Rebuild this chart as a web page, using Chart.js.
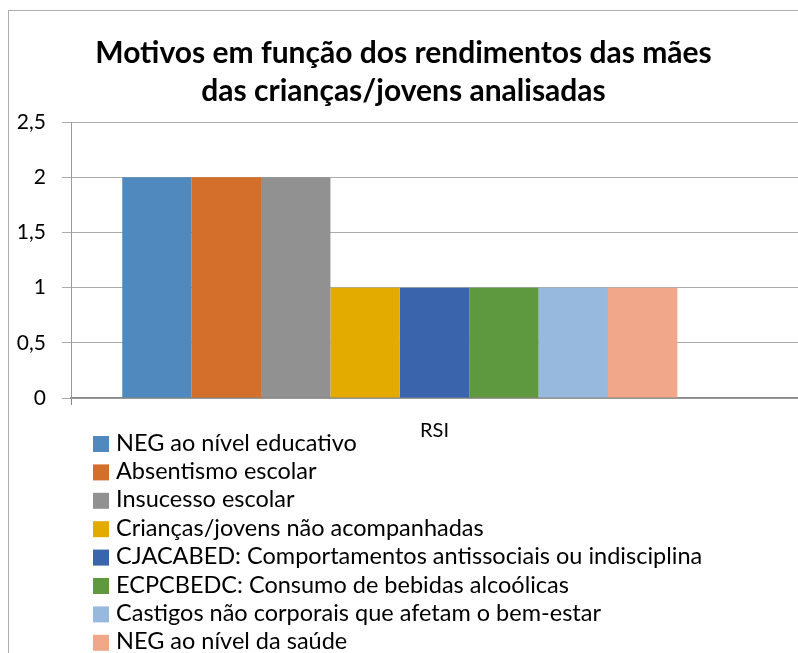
<!DOCTYPE html>
<html>
<head>
<meta charset="utf-8">
<script src="https://cdn.jsdelivr.net/npm/chart.js@4/dist/chart.umd.min.js"></script>
<style>
  html, body { margin: 0; padding: 0; background: #fff; overflow: hidden; width: 798px; height: 653px; }
  #frame { position: absolute; left: 8px; top: 10px; width: 797px; height: 660px;
           border-left: 1px solid #adadad; border-top: 1px solid #adadad; }
  canvas { display: block; }
</style>
</head>
<body>
<div id="frame"><canvas id="chart" width="797" height="650"></canvas></div>
<script>
// data
const categories = ['RSI'];
const seriesNames = [
  'NEG ao nível educativo',
  'Absentismo escolar',
  'Insucesso escolar',
  'Crianças/jovens não acompanhadas',
  'CJACABED: Comportamentos antissociais ou indisciplina',
  'ECPCBEDC: Consumo de bebidas alcoólicas',
  'Castigos não corporais que afetam o bem-estar',
  'NEG ao nível da saúde',
  '' // ninth series is cut off below the picture, no visible bar
];
const seriesValues = [2, 2, 2, 1, 1, 1, 1, 1, null];
const titleLines = ['Motivos em função dos rendimentos das mães', 'das crianças/jovens analisadas'];

const palette = ['#4F89BD', '#D46E2B', '#919191', '#E3AA00', '#3A64AB', '#5F993F', '#97B9DE', '#F0A78A', '#7F6084'];
const font = 'Lato, "Open Sans", sans-serif';

const datasets = seriesNames.map((name, i) => ({
  label: name,
  data: [seriesValues[i]],
  backgroundColor: palette[i],
  borderWidth: 0,
  categoryPercentage: 0.859,
  barPercentage: 1
}));

// Excel-style legend: one entry per line under the axis
const stackedLegend = {
  id: 'stackedLegend',
  afterDraw(chart) {
    const ctx = chart.ctx;
    const area = chart.chartArea;
    const x0 = area.left + 22;
    const y0 = area.bottom + 46;
    ctx.save();
    ctx.font = '23.5px ' + font;
    ctx.textBaseline = 'middle';
    chart.data.datasets.forEach((ds, i) => {
      if (!ds.label) return;
      const y = y0 + i * 28.4;
      ctx.fillStyle = ds.backgroundColor;
      ctx.fillRect(x0, y - 8, 16, 16);
      ctx.fillStyle = '#000';
      ctx.fillText(ds.label, x0 + 23, y - 1);
    });
    ctx.restore();
  }
};

new Chart(document.getElementById('chart'), {
  type: 'bar',
  data: { labels: categories, datasets: datasets },
  options: {
    responsive: false,
    animation: false,
    devicePixelRatio: 1,
    layout: { padding: { left: 0, right: 8, top: 0, bottom: 213 } },
    plugins: {
      legend: { display: false },
      tooltip: { enabled: false },
      title: {
        display: true,
        text: titleLines,
        color: '#000',
        font: { family: font, size: 30, weight: 'bold', lineHeight: 1.27 },
        padding: { top: 23, bottom: 12 }
      }
    },
    scales: {
      x: {
        offset: true,
        grid: { display: true, drawOnChartArea: false, tickLength: 7, color: '#868686' },
        border: { color: '#868686', width: 1.5 },
        ticks: { color: '#000', font: { family: font, size: 20 }, padding: 14 },
        afterFit(scale) { scale.height = 50; }
      },
      y: {
        min: 0,
        max: 2.5,
        ticks: {
          stepSize: 0.5,
          color: '#000',
          font: { family: font, size: 21 },
          padding: 16,
          callback: v => String(v).replace('.', ',')
        },
        grid: { color: '#ababab', tickLength: 9 },
        border: { color: '#9a9a9a' },
        afterFit(scale) { scale.width = 62; }
      }
    }
  },
  plugins: [stackedLegend]
});
</script>
</body>
</html>
